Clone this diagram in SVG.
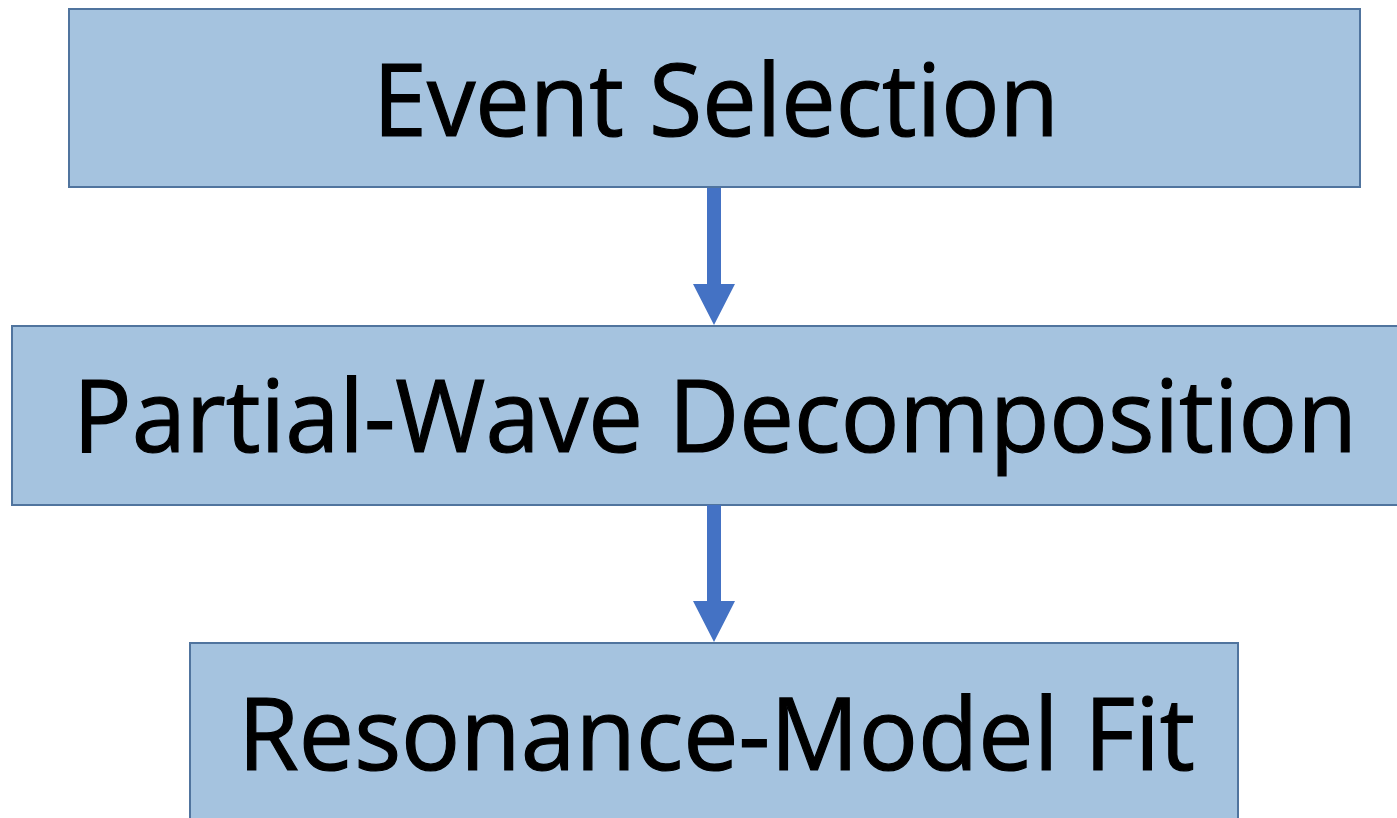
<svg xmlns="http://www.w3.org/2000/svg" width="1397" height="818" viewBox="0 0 1397 818">
<style>
.box{fill:#A5C3DF;stroke:#50749E;stroke-width:2}
.lbl{font-family:"Open Sans","Noto Sans","Liberation Sans",sans-serif;font-size:100px;fill:#000;stroke:#000;stroke-width:1.2}
.arrow{fill:#4472C4}
</style>
<rect width="1397" height="818" fill="#fff"/>
<g id="node-event-selection">
<rect class="box" x="69" y="9" width="1291" height="178"/>
<text class="lbl" x="373" y="136" textLength="686" lengthAdjust="spacingAndGlyphs">Event Selection</text>
</g>
<g id="node-pwd">
<rect class="box" x="12" y="326" width="1395" height="179"/>
<text class="lbl" x="73" y="452" textLength="1284" lengthAdjust="spacingAndGlyphs">Partial-Wave Decomposition</text>
</g>
<g id="node-fit">
<rect class="box" x="190" y="643" width="1048" height="190"/>
<text class="lbl" x="238" y="770" textLength="957" lengthAdjust="spacingAndGlyphs">Resonance-Model Fit</text>
</g>
<g id="connectors">
<path class="arrow" d="M707 188 H721 V284 H735 L714 325 L693 284 H707 Z"/>
<path class="arrow" d="M707 505 H721 V601 H735 L714 642 L693 601 H707 Z"/>
</g>
</svg>
